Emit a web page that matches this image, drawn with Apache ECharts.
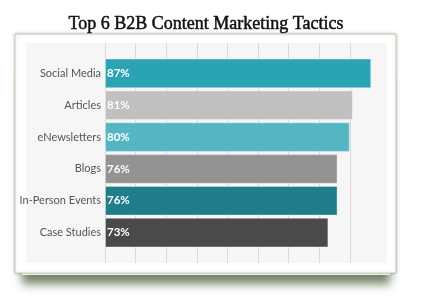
<!DOCTYPE html>
<html><head><meta charset="utf-8">
<script src="https://cdn.jsdelivr.net/npm/echarts@6/dist/echarts.min.js"></script>
<style>html,body{margin:0;padding:0;background:#fff;}#c{width:422px;height:305px;}</style>
</head><body><div id="c"></div>
<script>
const title = 'Top 6 B2B Content Marketing Tactics';
const categories = ['Social Media', 'Articles', 'eNewsletters', 'Blogs', 'In-Person Events', 'Case Studies'];
const values = [87, 81, 80, 76, 76, 73];
const barColors = ['#2aa4b4', '#c0c0c0', '#55b6c3', '#939393', '#217d89', '#4a4a4a'];
const xMin = 0, xMax = 90, xStep = 10;

const chart = echarts.init(document.getElementById('c'), null, {renderer: 'canvas'});
const font = 'Lato, Roboto, sans-serif';
chart.setOption({
  animation: false,
  backgroundColor: '#fff',
  title: {
    text: title, left: 201, top: 10, textAlign: 'center',
    textStyle: {fontFamily: '"Liberation Serif", serif', fontSize: 18, fontWeight: 'normal', color: '#111',
      textBorderColor: '#111', textBorderWidth: 0.5}
  },
  graphic: [
    {type: 'rect', z: -10, shape: {x: 22, y: 70, width: 368, height: 205},
     style: {fill: '#fff', shadowBlur: 9, shadowOffsetY: 9, shadowColor: 'rgba(80,100,70,0.8)'}},
    {type: 'rect', z: -9, shape: {x: 15, y: 34, width: 381, height: 239},
     style: {fill: '#fff', stroke: 'rgba(170,190,160,0.6)', lineWidth: 1, shadowBlur: 3, shadowColor: 'rgba(120,145,110,0.55)'}},
    {type: 'rect', z: -8, shape: {x: 26, y: 43, width: 361, height: 220},
     style: {fill: '#f6f6f6'}}
  ],
  grid: [
    {left: 105, top: 43, width: 275.4, height: 220},
    {left: 105, top: 57.5, width: 275.4, height: 191}
  ],
  xAxis: [
    {gridIndex: 0, type: 'value', min: xMin, max: xMax, interval: xStep,
     axisLine: {show: false}, axisTick: {show: false}, axisLabel: {show: false},
     splitLine: {show: true, showMinLine: true, showMaxLine: false, lineStyle: {color: '#d8d8d8', width: 1}}},
    {gridIndex: 1, type: 'value', min: xMin, max: xMax, interval: xStep,
     axisLine: {show: false}, axisTick: {show: false}, axisLabel: {show: false}, splitLine: {show: false}}
  ],
  yAxis: [
    {gridIndex: 0, type: 'category', data: categories, inverse: true, show: false},
    {gridIndex: 1, type: 'category', data: categories, inverse: true,
     axisLine: {show: false}, axisTick: {show: false},
     axisLabel: {color: '#555', fontFamily: font, fontSize: 11, margin: 4}}
  ],
  series: [{
    type: 'bar', xAxisIndex: 1, yAxisIndex: 1,
    data: values.map((v, i) => ({value: v, itemStyle: {color: barColors[i]}})),
    barCategoryGap: '7%',
    itemStyle: {borderColor: 'rgba(255,255,255,0.35)', borderWidth: 1},
    label: {show: true, position: 'insideLeft', offset: [-3, 0], formatter: '{c}%',
      color: '#fff', fontFamily: font, fontSize: 11.5, fontWeight: 'bold'}
  }]
});
</script></body></html>
